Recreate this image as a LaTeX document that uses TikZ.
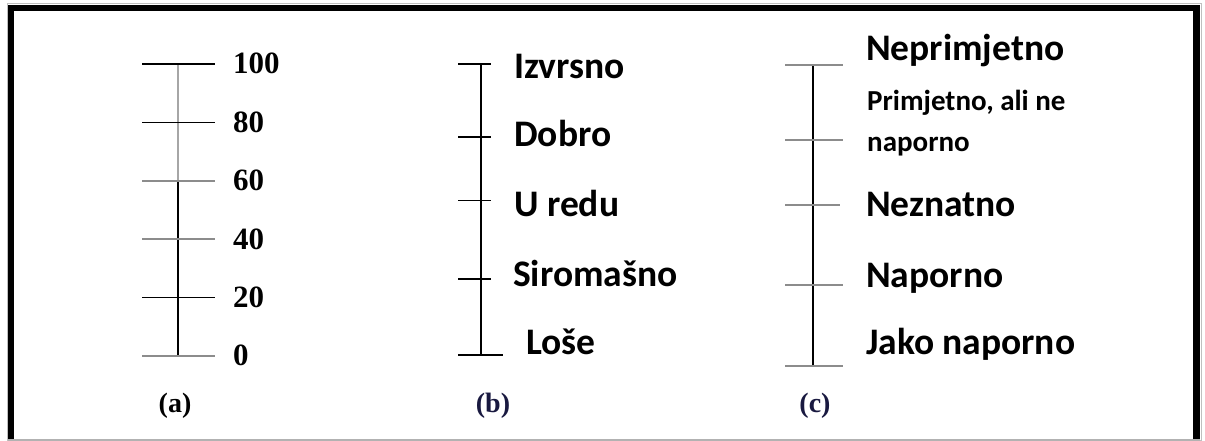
\documentclass[tikz,border=0pt]{standalone}
\usepackage{fontspec}
\setmainfont{Liberation Serif}
\newfontfamily\calibfont{Carlito}
\definecolor{tickgray}{gray}{0.55}
\definecolor{capblue}{rgb}{0.10,0.10,0.25}
\begin{document}
\begin{tikzpicture}[x=1bp,y=-1bp,
  frame/.style={line width=6.5bp,black},
  axisline/.style={line width=1.8bp,black},
  tickline/.style={line width=1.8bp,black},
  softtick/.style={line width=1.8bp,tickgray},
  numlab/.style={anchor=base west,inner sep=0pt,font=\fontsize{31bp}{33bp}\selectfont\bfseries},
  biglab/.style={anchor=base west,inner sep=0pt,font=\fontsize{37.5bp}{40bp}\selectfont\calibfont\bfseries},
  smalllab/.style={anchor=base west,inner sep=0pt,font=\fontsize{29bp}{32bp}\selectfont\calibfont\bfseries},
  caplab/.style={anchor=base,inner sep=0pt,font=\fontsize{28bp}{30bp}\selectfont\bfseries}]
\useasboundingbox (0,0) rectangle (1205,441);
\fill[white] (0,0) rectangle (1205,441);
% frame
\draw[gray!50,line width=0.8bp] (7,3) rectangle (1201,440);
\draw[frame] (11,441) -- (11,8) -- (1196.5,8) -- (1196.5,441);
\draw[gray!60,line width=1.2bp] (8,440) -- (1200,440);

% ---------- scale (a)
\coordinate (a0) at (178,64);
\coordinate (a1) at (178,356);
\draw[axisline,gray!70] (a0) -- (178,181);
\draw[axisline] (178,181) -- (a1);
\draw[tickline] (142,64) -- (215,64);
\draw[tickline] (142,122.5) -- (215,122.5);
\draw[softtick] (142,181) -- (215,181);
\draw[softtick] (142,239) -- (215,239);
\draw[tickline] (142,297.5) -- (215,297.5);
\draw[softtick] (142,356) -- (215,356);
\node[numlab] (n100) at (233,73.5) {100};
\node[numlab] (n80) at (233,132.5) {80};
\node[numlab] (n60) at (233,191) {60};
\node[numlab] (n40) at (233,250) {40};
\node[numlab] (n20) at (233,307.5) {20};
\node[numlab] (n0) at (233,366) {0};
\node[caplab] (capa) at (175,413) {(a)};

% ---------- scale (b)
\coordinate (b0) at (481,64);
\coordinate (b1) at (481,355);
\draw[axisline] (b0) -- (b1);
\draw[tickline] (458,64) -- (491,64);
\draw[tickline] (458,137) -- (491,137);
\draw[tickline] (458,200.5) -- (491,200.5);
\draw[tickline] (458,279) -- (491,279);
\draw[tickline] (458,355) -- (503,355);
\node[biglab] (izv) at (514,79) {Izvrsno};
\node[biglab] (dob) at (514,146.5) {Dobro};
\node[biglab] (ured) at (514,216.5) {U redu};
\node[biglab] (sir) at (513,286.5) {Siromašno};
\node[biglab] (los) at (526,355) {Loše};
\node[caplab,text=capblue] (capb) at (493,413) {(b)};

% ---------- scale (c)
\coordinate (c0) at (813,65);
\coordinate (c1) at (813,366);
\draw[axisline] (c0) -- (c1);
\draw[softtick] (785,65) -- (843,65);
\draw[softtick] (785,140) -- (843,140);
\draw[softtick] (785,205) -- (840,205);
\draw[softtick] (785,285) -- (843,285);
\draw[softtick] (785,366) -- (843,366);
\node[biglab] (nepr) at (866,61) {Neprimjetno};
\node[smalllab] (prim1) at (867,111) {Primjetno, ali ne};
\node[smalllab] (prim2) at (867,151.5) {naporno};
\node[biglab] (nezn) at (866,216.5) {Neznatno};
\node[biglab] (napo) at (866,288) {Naporno};
\node[biglab] (jako) at (866,355) {Jako naporno};
\node[caplab,text=capblue] (capc) at (815,413) {(c)};
\end{tikzpicture}
\end{document}
